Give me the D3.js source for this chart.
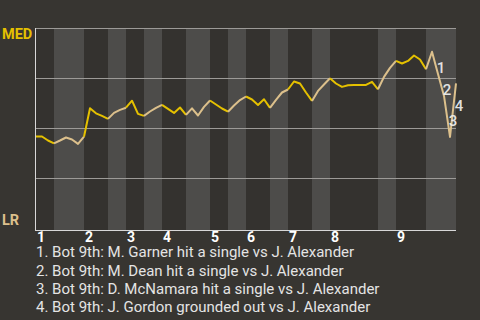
<!DOCTYPE html>
<html><head><meta charset="utf-8">
<script src="https://cdn.jsdelivr.net/npm/d3@7"></script>
<style>
html,body{margin:0;padding:0;background:#373531;}
svg{display:block;font-family:Roboto,"Noto Sans",sans-serif;}
</style></head>
<body><svg id="c" width="480" height="320"></svg>
<script>
// MED win probability (%) after each plate appearance (index 0 = game start)
const winProb = [46,46,44,42.6,44,45.5,44.5,42.3,45.9,
 60.1,57.6,56.3,54.8,
 57.8,59.3,60.4,
 63.9,57.3,56.3,
 58.5,60.3,61.8,
 59.8,57.8,60.5,56.8,
 60.1,56.5,60.8,64,
 62,60,58.4,
 61.5,64.2,66,
 64.5,61.8,64.6,60.3,
 64.3,68,69.5,
 73.5,72.5,68,63.8,
 68.8,72,75.1,
 72.5,70.8,71.6,71.8,71.8,71.8,73.3,69.6,
 75.8,80.3,83.8,
 82.5,83.8,86.5,84.5,79.6,
 88.4,77.3,66.3,45.8,72.6];
// index at which each half inning ends (top 1, bot 1, top 2, ...)
const halfInningEnds = [3,8,12,15,18,21,25,29,32,35,39,42,46,49,57,60,65,70];
const inningLabels = ["1","2","3","4","5","6","7","8","9"];
const teams = ["MED","LR"];
const eventIndex = [67,68,69,70];
const eventLabels = ["1","2","3","4"];
const eventTexts = [
 "1. Bot 9th: M. Garner hit a single vs J. Alexander",
 "2. Bot 9th: M. Dean hit a single vs J. Alexander",
 "3. Bot 9th: D. McNamara hit a single vs J. Alexander",
 "4. Bot 9th: J. Gordon grounded out vs J. Alexander"
];
const gridValues = [25,50,75,100];

const svg = d3.select("#c");
const x = d3.scaleLinear().domain([0, winProb.length-1]).range([36,456]);
const y = d3.scaleLinear().domain([0,100]).range([228.5,28.5]);
const topColor = "#e5c100", botColor = "#dcc08c";

// half-inning stripes
const halves = halfInningEnds.map((e,i)=>({start: i===0?0:halfInningEnds[i-1], end:e, top: i%2===0}));
svg.append("g").selectAll("rect").data(halves).join("rect")
  .attr("x", d=>x(d.start)).attr("width", d=>x(d.end)-x(d.start))
  .attr("y", 29).attr("height", 201)
  .attr("fill", d=>d.top?"#34322f":"#4d4c4a");

// grid
svg.append("g").selectAll("line").data(gridValues).join("line")
  .attr("x1", x(0)).attr("x2", x(winProb.length-1))
  .attr("y1", d=>y(d)).attr("y2", d=>y(d))
  .attr("stroke", "#9c9a97").attr("stroke-width", 1);

// axes
svg.append("line").attr("x1",35.5).attr("x2",35.5).attr("y1",28).attr("y2",231)
  .attr("stroke","#d8d8d8").attr("stroke-width",1);
svg.append("line").attr("x1",35).attr("x2",x(winProb.length-1)).attr("y1",230.5).attr("y2",230.5)
  .attr("stroke","#d8d8d8").attr("stroke-width",1);

// line per half inning
const line = d3.line().x(d=>x(d.i)).y(d=>y(d.v));
svg.append("g").selectAll("path").data(halves).join("path")
  .attr("d", h=>line(d3.range(h.start, h.end+1).map(i=>({i, v:winProb[i]}))))
  .attr("fill","none").attr("stroke", h=>h.top?topColor:botColor)
  .attr("stroke-width",2).attr("stroke-linejoin","round");

// event labels
svg.append("g").selectAll("text").data(eventIndex).join("text")
  .attr("x", d=>(x(d)+x(d-1))/2+6)
  .attr("y", d=>{const m=(y(winProb[d])+y(winProb[d-1]))/2; return m + (winProb[d]<winProb[d-1]?4.5:-4.3) + 5.5;})
  .attr("text-anchor","middle").attr("font-size",15).attr("font-weight",500)
  .attr("fill","#f2f2f2").attr("fill-opacity",0.92)
  .text((d,i)=>eventLabels[i]);

// team labels
svg.append("text").attr("x",2).attr("y",39).attr("font-size",14.5).attr("font-weight",700)
  .attr("fill",topColor).text(teams[0]);
svg.append("text").attr("x",2).attr("y",225).attr("font-size",14.5).attr("font-weight",700)
  .attr("fill",botColor).text(teams[1]);

// inning labels
const topHalves = halves.filter(h=>h.top);
svg.append("g").selectAll("text").data(topHalves).join("text")
  .attr("x", d=>x(d.start)+1).attr("y",242)
  .attr("font-size",14).attr("font-weight",700).attr("fill","#ffffff")
  .text((d,i)=>inningLabels[i]);

// legend
svg.append("g").selectAll("text").data(eventTexts).join("text")
  .attr("x",36).attr("y",(d,i)=>257.3+i*18.2)
  .attr("font-size",15).attr("fill","#e4e4e4").text(d=>d);
</script></body></html>
